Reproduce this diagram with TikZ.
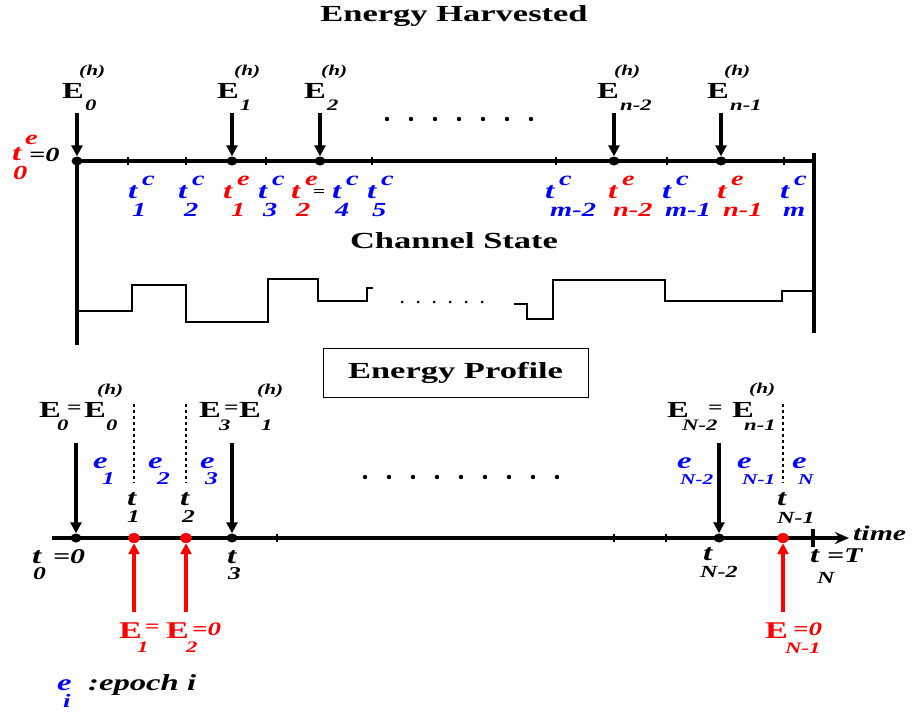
\documentclass[tikz,border=0pt]{standalone}
\usepackage{fontspec}
\setmainfont{Liberation Serif}[FakeStretch=1.42]
\newfontfamily\ttlfont{Liberation Serif}[FakeStretch=1.5]
\usetikzlibrary{arrows.meta,shapes.geometric}
\newcommand\fz[1]{\fontsize{#1}{#1}\selectfont}
\newcommand\at[4]{\rlap{\kern#1\raisebox{#2}{\fz{#3}#4}}}
\newcommand\Eh[1]{\at{17pt}{23pt}{15}{\itshape (h)}\at{23pt}{-12pt}{16}{\itshape #1}E}
\newcommand\tlb[3]{\at{14pt}{13pt}{20}{#1}\at{#3}{-18pt}{20}{#2}t}
\tikzset{
 lab/.style={inner sep=0pt, anchor=base west, font=\bfseries\itshape\fz{23}},
 elab/.style={inner sep=0pt, anchor=base west, font=\bfseries\fz{23}},
 ttl/.style={inner sep=0pt, anchor=base, font=\ttlfont\bfseries\fz{23}},
 arr/.style={line width=3.2pt, -{Triangle[length=11pt,width=11pt]}},
 bdot/.style={ellipse, fill=black, minimum width=11pt, minimum height=9pt, inner sep=0pt},
 rdot/.style={ellipse, fill=red, minimum width=12pt, minimum height=10pt, inner sep=0pt},
 axis/.style={line width=3.2pt},
 tick/.style={line width=1.3pt},
 dotl/.style={line width=2.2pt, dash pattern=on 3pt off 3pt},
 wave/.style={line width=1.1pt},
}
\begin{document}
\begin{tikzpicture}[x=1pt,y=-1pt]
\useasboundingbox (0,0) rectangle (913,715);
% ---------- titles
\node[ttl] (title1) at (454,21) {Energy Harvested};
\node[ttl] (title2) at (454,248) {Channel State};
\node[draw, line width=1pt, minimum width=265pt, minimum height=49pt, inner sep=0pt,
      font=\ttlfont\bfseries\fz{23}] (ep) at (455.5,372.5) {Energy Profile};
% ---------- top axis
\draw[axis] (77,161) -- (814,161);
\draw[line width=3.8pt] (77,161) -- (77,345);
\draw[line width=3.8pt] (814,153) -- (814,333);
\foreach \x in {128,186,266,372,556,667,784} \draw[tick] (\x,157) -- (\x,165);
\node[bdot] (d0) at (77,161) {};
\node[bdot] (d1) at (232,161) {};
\node[bdot] (d2) at (320,161) {};
\node[bdot] (d3) at (614,161) {};
\node[bdot] (d4) at (721,161) {};
\foreach \n/\x in {0/77,1/232,2/320,3/614,4/721} {
  \coordinate (a\n) at (\x,113);
  \draw[arr] (a\n) -- (d\n);
}
\foreach \x in {387,411,435,459,483,507,531} \fill (\x,119) circle (2.2pt);
% harvested energy labels
\node[elab] (Eh0) at (62,98) {\Eh{0}};
\node[elab] (Eh1) at (217,98) {\Eh{1}};
\node[elab] (Eh2) at (304,98) {\Eh{2}};
\node[elab] (Ehn2) at (597,98) {\Eh{n-2}};
\node[elab] (Ehn1) at (707,98) {\Eh{n-1}};
% time labels on top axis
\node[lab,red] (te0) at (12,160) {\at{13pt}{16pt}{20}{e}\at{1pt}{-19pt}{20}{0}\at{17pt}{-1pt}{20}{\color{black}=0}t};
\node[lab,blue] (tc1) at (128,198) {\tlb{c}{1}{4pt}};
\node[lab,blue] (tc2) at (178,198) {\tlb{c}{2}{6pt}};
\node[lab,red] (te1) at (223,198) {\tlb{e}{1}{8pt}};
\node[lab,blue] (tc3) at (258,198) {\tlb{c}{3}{5pt}};
\node[lab,red] (te2) at (291,198) {\tlb{e}{2}{5pt}};
\node[lab,font=\bfseries\fz{15}] (eq1) at (313,196) {=};
\node[lab,blue] (tc4) at (332,198) {\tlb{c}{4}{3pt}};
\node[lab,blue] (tc5) at (367,198) {\tlb{c}{5}{5pt}};
\node[lab,blue] (tcm2) at (545,198) {\tlb{c}{m-2}{5pt}};
\node[lab,red] (ten2) at (608,198) {\tlb{e}{n-2}{5pt}};
\node[lab,blue] (tcm1) at (662,198) {\tlb{c}{m-1}{3pt}};
\node[lab,red] (ten1) at (717,198) {\tlb{e}{n-1}{6pt}};
\node[lab,blue] (tcm) at (780,198) {\tlb{c}{m}{3pt}};
% ---------- channel state waveform
\draw[wave] (77,311) -| (132,285) -| (186,322) -| (268,279) -| (318,301) -| (367,288) -- (373,288);
\draw[wave] (514,304) -| (527,319) -| (553,280) -| (665,301) -| (782,291) -- (814,291);
\foreach \x in {402,418,434,450,466,482} \fill (\x,302) circle (1.5pt);
% ---------- energy profile axis
\coordinate (axL) at (52,538);
\coordinate (axR) at (849,538);
\draw[axis,-{Stealth[length=14pt,width=12pt]}] (axL) -- (axR);
\foreach \x in {277,614,666} \draw[tick] (\x,534) -- (\x,542);
\draw[line width=3.2pt] (813,529) -- (813,547);
\foreach \x in {134,186,783} \draw[dotl] (\x,404) -- (\x,483);
\node[bdot] (b0) at (76,538) {};
\node[bdot] (b3) at (232,538) {};
\node[bdot] (bN2) at (719,538) {};
\node[rdot] (r1) at (134,538) {};
\node[rdot] (r2) at (186,538) {};
\node[rdot] (rN1) at (783,538) {};
\foreach \n/\x in {0/76,3/232,N2/719} {
  \coordinate (c\n) at (\x,443);
  \draw[arr] (c\n) -- (b\n);
}
\foreach \n/\x in {1/134,2/186,N1/783} {
  \coordinate (s\n) at (\x,612);
  \draw[arr,red] (s\n) -- (r\n);
}
\foreach \x in {365,389,413,437,461,485,509,533,557} \fill (\x,477) circle (2.2pt);
% energy labels
\node[elab] (E0) at (39,417) {\at{18pt}{-13pt}{16}{\itshape 0}\at{28pt}{4pt}{18}{=}\at{45pt}{0pt}{23}{E}\at{58pt}{23pt}{15}{\itshape (h)}\at{67pt}{-13pt}{16}{\itshape 0}E};
\node[elab] (E3) at (199,417) {\at{20pt}{-13pt}{16}{\itshape 3}\at{25pt}{4pt}{18}{=}\at{40pt}{0pt}{23}{E}\at{58pt}{23pt}{15}{\itshape (h)}\at{62pt}{-13pt}{16}{\itshape 1}E};
\node[elab] (EN2) at (667,417) {\at{15pt}{-13pt}{16}{\itshape N-2}\at{41pt}{4pt}{18}{=}\at{65pt}{0pt}{23}{E}\at{82pt}{24pt}{15}{\itshape (h)}\at{77pt}{-13pt}{16}{\itshape n-1}E};
% epochs
\node[lab,blue] (e1) at (93,468) {\at{9pt}{-16pt}{18}{1}e};
\node[lab,blue] (e2) at (148,468) {\at{9pt}{-16pt}{18}{2}e};
\node[lab,blue] (e3) at (200,468) {\at{5pt}{-16pt}{18}{3}e};
\node[lab,blue] (eN2) at (677,468) {\at{3pt}{-16pt}{15}{N-2}e};
\node[lab,blue] (eN1) at (737,468) {\at{5pt}{-16pt}{15}{N-1}e};
\node[lab,blue] (eN) at (792,468) {\at{6pt}{-16pt}{15}{N}e};
% time instants
\node[lab] (t1) at (127,505) {\at{0pt}{-17pt}{18}{1}t};
\node[lab] (t2) at (180,505) {\at{2pt}{-17pt}{18}{2}t};
\node[lab] (tN1) at (777,505) {\at{0pt}{-18pt}{17}{N-1}t};
\node[lab] (t0) at (32,563) {\at{1pt}{-16pt}{18}{0}\at{21pt}{0pt}{21}{=0}t};
\node[lab] (t3) at (227,563) {\at{1pt}{-16pt}{18}{3}t};
\node[lab] (tN2) at (703,560) {\at{-3pt}{-17pt}{17}{N-2}t};
\node[lab] (tN) at (810,562) {\at{7pt}{-21pt}{17}{N}\at{17pt}{0pt}{21}{=T}t};
\node[lab,font=\bfseries\itshape\fz{21}] (time) at (853,540) {time};
% red labels
\node[elab,red] (E12) at (119,638) {\at{18pt}{-14pt}{16}{\itshape 1}\at{26pt}{6pt}{18}{=}\at{47pt}{0pt}{24}{E}\at{67pt}{-14pt}{16}{\itshape 2}\at{73pt}{3pt}{19}{\itshape =0}\fz{24}E};
\node[elab,red] (EN1) at (765,638) {\at{20pt}{-15pt}{16}{\itshape N-1}\at{28pt}{3pt}{19}{\itshape =0}\fz{24}E};
% legend
\node[lab,blue] (ei) at (57,690) {\at{6pt}{-17pt}{19}{i}\at{31pt}{0pt}{23}{\color{black}:epoch i}e};
\end{tikzpicture}
\end{document}
